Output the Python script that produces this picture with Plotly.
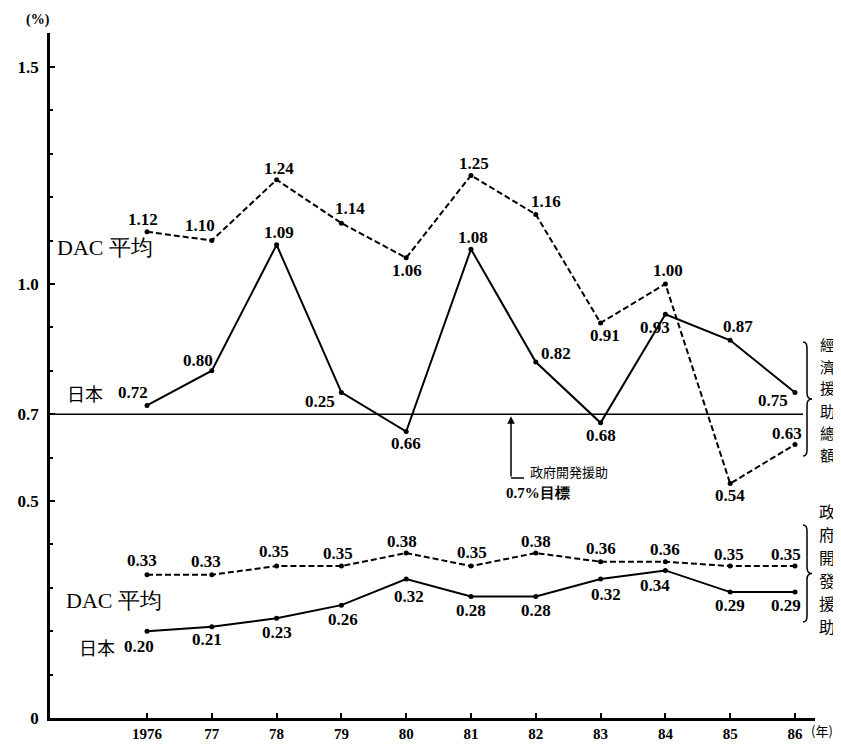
import plotly.graph_objects as go

# ---------------- data ----------------
years = [1976, 1977, 1978, 1979, 1980, 1981, 1982, 1983, 1984, 1985, 1986]
year_labels = ["1976", "77", "78", "79", "80", "81", "82", "83", "84", "85", "86"]

# 経済援助総額 (GNP比, %)
dac_total = [1.12, 1.10, 1.24, 1.14, 1.06, 1.25, 1.16, 0.91, 1.00, 0.54, 0.63]
jp_total = [0.72, 0.80, 1.09, 0.75, 0.66, 1.08, 0.82, 0.68, 0.93, 0.87, 0.75]
dac_total_labels = ["1.12", "1.10", "1.24", "1.14", "1.06", "1.25", "1.16", "0.91", "1.00", "0.54", "0.63"]
jp_total_labels = ["0.72", "0.80", "1.09", "0.25", "0.66", "1.08", "0.82", "0.68", "0.93", "0.87", "0.75"]

# 政府開発援助 (GNP比, %)
dac_oda = [0.33, 0.33, 0.35, 0.35, 0.38, 0.35, 0.38, 0.36, 0.36, 0.35, 0.35]
jp_oda = [0.20, 0.21, 0.23, 0.26, 0.32, 0.28, 0.28, 0.32, 0.34, 0.29, 0.29]
dac_oda_labels = ["0.33", "0.33", "0.35", "0.35", "0.38", "0.35", "0.38", "0.36", "0.36", "0.35", "0.35"]
jp_oda_labels = ["0.20", "0.21", "0.23", "0.26", "0.32", "0.28", "0.28", "0.32", "0.34", "0.29", "0.29"]

target = 0.7
y_tick_vals = [0, 0.5, 0.7, 1.0, 1.5]
y_tick_text = ["0", "0.5", "0.7", "1.0", "1.5"]

side_title_total = "經濟援助總額"
side_title_oda = "政府開發援助"

# ---------------- styling / label offsets (px, dx right, dy down) ----------------
off_dac_total = [(-4, -12), (-12, -15), (2, -11), (9, -15), (1, 13), (3, -12),
                 (10, -13), (4, 13), (3, -13), (0, 12), (-8, -11)]
off_jp_total = [(-14, -13), (-14, -10), (2, -12), (-21, 9), (0, 12), (2, -12),
                (20, -9), (0, 13), (-10, 13), (8, -14), (-22, 8)]
off_dac_oda = [(-5, -14), (-6, -13), (-3, -15), (-3, -13), (-4, -12), (1, -14),
               (0, -12), (0, -13), (0, -12), (-1, -12), (-9, -12)]
off_jp_oda = [(-8, 15), (-5, 13), (0, 14), (2, 14), (3, 17), (0, 14),
              (0, 14), (5, 15), (-10, 15), (0, 13), (-9, 13)]

NUM_FONT = dict(family="Liberation Serif", size=17, color="black", weight="bold")
LAB_FONT = dict(family="Liberation Serif", size=22, color="black")
CJK_FONT = dict(family="Noto Sans CJK JP", size=18, color="black")

# page is rendered with an 8px body margin: figure sized to fit the window
OFF = 8
W, H = 841 - OFF, 745 - OFF
X0, X1 = 1974.503, 1986.309
Y0, Y1 = 0.0, 1.578
# plot area in page pixels: x 50..815, y 33..718
L, T = 50 - OFF, 33 - OFF
R, B = W - (815 - OFF), H - (718 - OFF)
PW, PH = W - L - R, H - T - B
PX_X = PW / (X1 - X0)
PX_Y = PH / (Y1 - Y0)

fig = go.Figure()

def add_line(yv, dash):
    fig.add_trace(go.Scatter(
        x=years, y=yv, mode="lines+markers",
        line=dict(color="black", width=2, dash=dash),
        marker=dict(color="black", size=5),
        cliponaxis=False, showlegend=False, hoverinfo="skip"))

add_line(dac_total, "6px,3px")
add_line(jp_total, "solid")
add_line(dac_oda, "6px,3px")
add_line(jp_oda, "solid")

ann = []

def add_labels(yv, labels, offs):
    for x, y, t, (dx, dy) in zip(years, yv, labels, offs):
        ann.append(dict(x=x, y=y, xref="x", yref="y", text=t, showarrow=False,
                        xshift=dx, yshift=-dy, font=NUM_FONT,
                        xanchor="center", yanchor="middle"))

add_labels(dac_total, dac_total_labels, off_dac_total)
add_labels(jp_total, jp_total_labels, off_jp_total)
add_labels(dac_oda, dac_oda_labels, off_dac_oda)
add_labels(jp_oda, jp_oda_labels, off_jp_oda)

# page pixel -> data / paper coordinates
def px_x(px):
    return X0 + (px - OFF - L) / PX_X

def px_y(py):
    return (H - B - (py - OFF)) / PX_Y

def pap_x(px):
    return (px - OFF - L) / PW

def pap_y(py):
    return (H - B - (py - OFF)) / PH

def ptext(px, py, text, font, xanchor="center"):
    ann.append(dict(x=pap_x(px), y=pap_y(py), xref="paper", yref="paper", text=text,
                    showarrow=False, font=font, xanchor=xanchor, yanchor="middle"))

# series names
ptext(105, 247, "DAC 平均", LAB_FONT)
ptext(85, 393, "日本", CJK_FONT)
ptext(114, 600, "DAC 平均", LAB_FONT)
ptext(97, 647, "日本", CJK_FONT)

# units
ptext(38, 20, "(%)", dict(family="Liberation Serif", size=14, color="black", weight="bold"))
ptext(822, 730, "(年)", dict(family="Noto Sans CJK JP", size=13, color="black"))

# vertical side titles (one character per annotation)
for i, ch in enumerate(side_title_total):
    ptext(827, 344 + 22 * i, ch, dict(family="Noto Sans CJK TC", size=15, color="black"))
for i, ch in enumerate(side_title_oda):
    ptext(827, 511 + 23 * i, ch, dict(family="Noto Sans CJK TC", size=16, color="black"))

# target annotation text
ptext(528, 472, "政府開発援助", dict(family="Noto Sans CJK JP", size=13, color="black"), "left")
ptext(504, 493, "0.7%目標", dict(family="Liberation Serif", size=15, color="black", weight="bold"), "left")
# arrow to target line
ann.append(dict(x=px_x(511), y=target, xref="x", yref="y", ax=px_x(511), ay=px_y(478),
                axref="x", ayref="y", text="", showarrow=True, arrowhead=2,
                arrowsize=1, arrowwidth=1.5, arrowcolor="black", standoff=2))

shapes = []
# target line
shapes.append(dict(type="line", xref="x", yref="y", x0=X0, x1=px_x(803), y0=target, y1=target,
                   line=dict(color="black", width=1.5)))
# L-foot of arrow
shapes.append(dict(type="line", xref="x", yref="y", x0=px_x(511), x1=px_x(524),
                   y0=px_y(478), y1=px_y(478), line=dict(color="black", width=1.5)))

def brace(xpx, top_px, bot_px):
    x0 = px_x(xpx)
    xm = px_x(xpx + 4)
    xt = px_x(xpx + 9)
    yt = px_y(top_px)
    yb = px_y(bot_px)
    ym = (yt + yb) / 2
    d = 6 / PX_Y
    p = (f"M {x0},{yt} Q {xm},{yt} {xm},{yt - d} L {xm},{ym + d} "
         f"Q {xm},{ym} {xt},{ym} Q {xm},{ym} {xm},{ym - d} "
         f"L {xm},{yb + d} Q {xm},{yb} {x0},{yb}")
    return dict(type="path", xref="x", yref="y", path=p, line=dict(color="black", width=1.5))

shapes.append(brace(803, 342, 456))
shapes.append(brace(803, 525, 622))

fig.update_layout(
    width=W, height=H,
    margin=dict(l=L, r=R, t=T, b=B),
    paper_bgcolor="white", plot_bgcolor="white",
    annotations=ann, shapes=shapes,
    xaxis=dict(range=[X0, X1], tickvals=years, ticktext=year_labels, automargin=False,
               showgrid=False, zeroline=False, showline=True, linecolor="black", linewidth=2.5,
               ticks="inside", ticklen=5, tickcolor="black", tickwidth=2,
               ticklabelstandoff=0,
               tickfont=dict(family="Liberation Serif", size=15, color="black", weight="bold")),
    yaxis=dict(range=[Y0, Y1], tickvals=y_tick_vals, ticktext=y_tick_text, automargin=False,
               showgrid=False, zeroline=False, showline=True, linecolor="black", linewidth=2.5,
               ticks="inside", ticklen=5, tickcolor="black", tickwidth=2,
               ticklabelstandoff=5,
               minor=dict(dtick=0.1, ticks="inside", ticklen=3, tickcolor="black", tickwidth=1.5),
               tickfont=dict(family="Liberation Serif", size=17, color="black", weight="bold")),
)

fig.write_html("out.html")
